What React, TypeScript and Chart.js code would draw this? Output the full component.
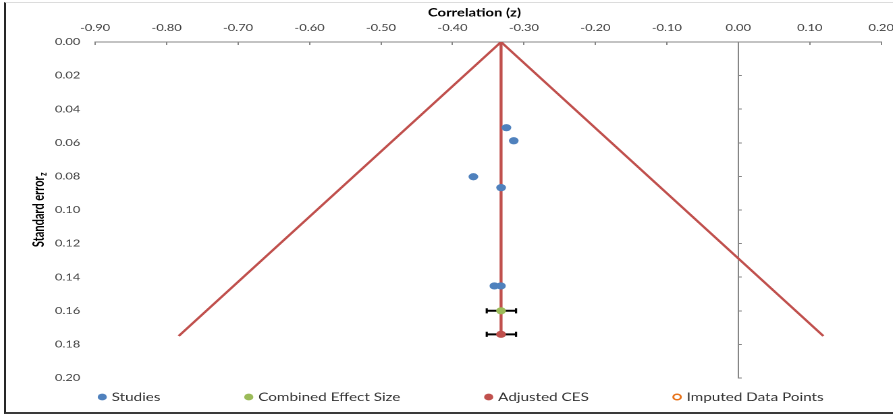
import React, { useEffect, useRef } from 'react';
import { Chart, registerables } from 'chart.js';

Chart.register(...registerables);

// ---- data ----
const xTickMin = -0.9;
const xTickMax = 0.2;
const xTickStep = 0.1;
const yTickMin = 0;
const yTickMax = 0.2;
const yTickStep = 0.02;

const studyZ = [-0.3245, -0.3142, -0.3707, -0.3319, -0.3413, -0.3322];
const studySE = [0.051, 0.0588, 0.0802, 0.0867, 0.1452, 0.1452];

const combinedZ = [-0.332];
const combinedSE = [0.16];
const combinedLo = [-0.352];
const combinedHi = [-0.311];

const adjustedZ = [-0.332];
const adjustedSE = [0.174];
const adjustedLo = [-0.352];
const adjustedHi = [-0.311];

const imputedZ: number[] = [];
const imputedSE: number[] = [];

const funnelZ = [-0.783, -0.332, 0.119];
const funnelSE = [0.175, 0, 0.175];
const centerLineZ = [-0.332, -0.332];
const centerLineSE = [0, 0.175];

const legendLabels = ['Studies', 'Combined Effect Size', 'Adjusted CES', 'Imputed Data Points'];
const xTitle = 'Correlation (z)';
const yTitleMain = 'Standard error';
const yTitleSub = 'z';

// ---- styles ----
const STRETCH = 1.35;
const CANVAS_W = 669;
const CANVAS_H = 410;
const FONT = 'Lato, "Open Sans", sans-serif';
const BLUE = '#4F81BD';
const GREEN = '#9BBB59';
const RED = '#C0504D';
const ORANGE = '#E8731A';
const AXIS = '#868686';
const TICK_TEXT = '#404040';

const pts = (xs: number[], ys: number[]) => xs.map((x, i) => ({ x, y: ys[i] }));
const fmt = (v: number | string) => {
  const n = Number(v);
  return (Math.abs(n) < 1e-9 ? 0 : n).toFixed(2);
};

const titlesPlugin = {
  id: 'axisTitles',
  afterDraw(chart: any) {
    const { ctx, chartArea } = chart;
    ctx.save();
    ctx.fillStyle = '#000';
    ctx.textBaseline = 'middle';
    // x title (centred over tick-label + plot region, like the original)
    ctx.font = `9.5px ${FONT}`;
    const labW = ctx.measureText('0.00').width;
    const lastW = ctx.measureText('0.20').width;
    const labLeft = chartArea.left - 11 - labW;
    const labRight = chartArea.right + lastW / 2;
    ctx.font = `bold 11px ${FONT}`;
    ctx.textAlign = 'center';
    ctx.fillText(xTitle, (labLeft + labRight) / 2, 10);
    // y title with subscript
    const cx = chartArea.left - 41.5;
    const cy = (chartArea.top + chartArea.bottom) / 2;
    ctx.translate(cx, cy);
    ctx.rotate(-Math.PI / 2);
    ctx.textAlign = 'left';
    ctx.font = `bold 11px ${FONT}`;
    const wm = ctx.measureText(yTitleMain).width;
    ctx.font = `bold 7.5px ${FONT}`;
    const ws = ctx.measureText(yTitleSub).width;
    const start = -(wm + ws) / 2;
    ctx.font = `bold 11px ${FONT}`;
    ctx.fillText(yTitleMain, start, 0);
    ctx.font = `bold 7.5px ${FONT}`;
    ctx.fillText(yTitleSub, start + wm + 0.5, 3);
    ctx.restore();
  },
};

const legendPlugin = {
  id: 'bottomLegend',
  afterDraw(chart: any) {
    const { ctx, chartArea } = chart;
    const items = chart.data.datasets.filter((d: any) => legendLabels.includes(d.label));
    ctx.save();
    ctx.font = `11.3px ${FONT}`;
    ctx.textBaseline = 'middle';
    ctx.textAlign = 'left';
    const y = chartArea.bottom + 19;
    let x = chartArea.left + 1.9;
    const r = 3.4;
    items.forEach((d: any) => {
      ctx.beginPath();
      ctx.arc(x + r, y, d.hollow ? r - 0.6 : r, 0, Math.PI * 2);
      if (d.hollow) {
        ctx.fillStyle = '#fff';
        ctx.fill();
        ctx.lineWidth = 1.5;
        ctx.strokeStyle = d.pointBorderColor;
        ctx.stroke();
      } else {
        ctx.fillStyle = d.backgroundColor;
        ctx.fill();
      }
      ctx.fillStyle = '#333';
      ctx.fillText(d.label, x + 10.4, y + 0.5);
      x += 10.4 + ctx.measureText(d.label).width + 62;
    });
    ctx.restore();
  },
};

export default function App() {
  const ref = useRef<HTMLCanvasElement>(null);

  useEffect(() => {
    if (!ref.current) return;
    const errorBar = (lo: number[], hi: number[], ys: number[]) => ({
      label: 'errorbar',
      data: [
        { x: lo[0], y: ys[0] },
        { x: hi[0], y: ys[0] },
      ],
      showLine: true,
      borderColor: '#000',
      borderWidth: 2,
      pointStyle: 'line',
      pointRotation: 90,
      pointRadius: 2.6,
      pointHoverRadius: 2.6,
      pointBorderWidth: 1.6,
      pointBorderColor: '#000',
      pointBackgroundColor: '#000',
    });

    const chart = new Chart(ref.current, {
      type: 'scatter',
      data: {
        datasets: [
          {
            label: legendLabels[0],
            data: pts(studyZ, studySE),
            backgroundColor: BLUE,
            borderColor: BLUE,
            borderWidth: 0,
            pointRadius: 3.6,
          },
          {
            label: legendLabels[1],
            data: pts(combinedZ, combinedSE),
            backgroundColor: GREEN,
            borderColor: GREEN,
            borderWidth: 0,
            pointRadius: 3.6,
          },
          {
            label: legendLabels[2],
            data: pts(adjustedZ, adjustedSE),
            backgroundColor: RED,
            borderColor: RED,
            borderWidth: 0,
            pointRadius: 3.6,
          },
          {
            label: legendLabels[3],
            data: pts(imputedZ, imputedSE),
            backgroundColor: '#fff',
            borderColor: ORANGE,
            pointBorderColor: ORANGE,
            borderWidth: 1.5,
            pointRadius: 3.2,
            hollow: true,
          } as any,
          errorBar(combinedLo, combinedHi, combinedSE),
          errorBar(adjustedLo, adjustedHi, adjustedSE),
          {
            label: 'funnel',
            data: pts(funnelZ, funnelSE),
            showLine: true,
            borderColor: RED,
            borderWidth: 2,
            pointRadius: 0,
            pointHoverRadius: 0,
          },
          {
            label: 'centre',
            data: pts(centerLineZ, centerLineSE),
            showLine: true,
            borderColor: RED,
            borderWidth: 2.2,
            pointRadius: 0,
            pointHoverRadius: 0,
          },
        ] as any,
      },
      options: {
        animation: false,
        responsive: false,
        devicePixelRatio: 2,
        events: [],
        layout: { padding: { left: 0, right: 0, top: 0, bottom: 35 } },
        plugins: {
          legend: { display: false },
          tooltip: { enabled: false },
          title: { display: false },
        },
        scales: {
          x: {
            type: 'linear',
            position: 'top',
            min: xTickMin,
            max: xTickMax,
            ticks: {
              stepSize: xTickStep,
              autoSkip: false,
              maxRotation: 0,
              padding: 11.3,
              color: TICK_TEXT,
              font: { family: FONT, size: 9.5 },
              callback: (v: any) => fmt(v),
            },
            grid: { drawOnChartArea: false, drawTicks: true, tickLength: -3, color: AXIS },
            border: { display: true, color: AXIS, width: 1 },
            afterFit: (s: any) => {
              s.height = 39;
            },
          },
          y: {
            type: 'linear',
            position: 'left',
            min: yTickMin,
            max: yTickMax,
            reverse: true,
            ticks: {
              stepSize: yTickStep,
              padding: 11,
              color: TICK_TEXT,
              font: { family: FONT, size: 9.5 },
              callback: (v: any) => fmt(v),
            },
            grid: { display: false, drawTicks: false },
            border: { display: false },
            afterFit: (s: any) => {
              s.width = 66;
            },
          },
          yz: {
            type: 'linear',
            position: { x: 0 },
            min: yTickMin,
            max: yTickMax,
            reverse: true,
            ticks: { display: false, stepSize: yTickStep },
            grid: { drawOnChartArea: false, drawTicks: true, tickLength: -3, color: AXIS },
            border: { display: true, color: AXIS, width: 1 },
          },
        } as any,
      },
      plugins: [titlesPlugin, legendPlugin],
    } as any);
    return () => chart.destroy();
  }, []);

  return (
    <div
      style={{
        position: 'absolute',
        left: 0,
        top: 0,
        width: 893,
        height: 415,
        overflow: 'hidden',
        background: '#fff',
      }}
    >
      <div
        style={{
          position: 'absolute',
          left: 4,
          top: 2,
          width: 889,
          height: 409,
          borderLeft: '2px solid #262626',
          borderBottom: '2px solid #3a3a3a',
          borderTop: '1px solid #dcdcdc',
        }}
      />
      <canvas
        ref={ref}
        width={CANVAS_W}
        height={CANVAS_H}
        style={{
          position: 'absolute',
          left: 6,
          top: 3,
          transform: `scaleX(${STRETCH})`,
          transformOrigin: '0 0',
        }}
      />
    </div>
  );
}
